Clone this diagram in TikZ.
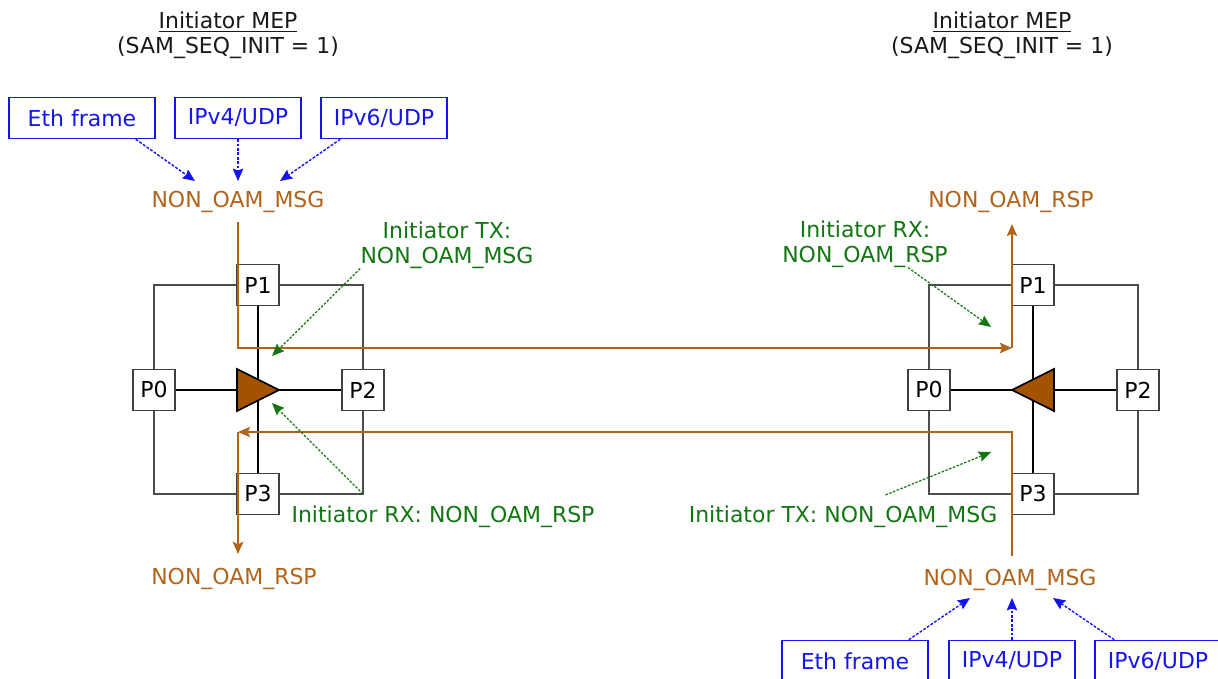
\documentclass[tikz,border=0pt]{standalone}
\usepackage{fontspec}
\setmainfont{DejaVu Sans}
\usetikzlibrary{arrows.meta, positioning, calc}
\definecolor{mepbrown}{HTML}{B2631A}
\definecolor{mepfill}{HTML}{A35200}
\definecolor{mepgreen}{HTML}{127612}
\definecolor{mepblue}{HTML}{1414F0}

\tikzset{
  port/.style={draw=black!75, fill=white, line width=0.6pt, minimum width=0.84cm, minimum height=0.82cm, inner sep=0pt},
  srcbox/.style={draw=mepblue, text=mepblue, line width=0.9pt, minimum height=0.82cm, inner sep=0pt},
  msglbl/.style={text=mepbrown, inner sep=0pt, anchor=base},
  note/.style={text=mepgreen, align=center, inner sep=0pt, anchor=base},
  frame/.style={draw=black!70, line width=0.6pt},
  link/.style={draw=black, line width=1.1pt},
  wedge/.style={fill=mepfill, draw=black, line width=0.9pt, line join=miter},
  flow/.style={draw=mepbrown, line width=0.9pt, -{Stealth[length=7pt,width=6pt,inset=1.5pt]}},
  feed/.style={draw=mepblue, line width=0.8pt, dash pattern=on 1.6pt off 0.9pt, -{Stealth[length=7pt,width=6pt,inset=1pt]}},
  hint/.style={draw=mepgreen, line width=0.7pt, dash pattern=on 1.4pt off 0.9pt, -{Stealth[length=7pt,width=6pt,inset=1pt]}}
}

\begin{document}
\begin{tikzpicture}[x=0.02cm, y=-0.02cm, font=\fontsize{12.5}{14.2}\selectfont]
  \useasboundingbox (0,0) rectangle (1218,679);
  \clip (0,0) rectangle (1218,679);

  % MEP headers
  \node[anchor=base, align=center, text=black!90, inner sep=0pt] (lHead) at (228,54)
    {\underline{Initiator MEP}\\[0.5pt](SAM\_SEQ\_INIT = 1)};
  \node[anchor=base, align=center, text=black!90, inner sep=0pt] (rHead) at (1002,54)
    {\underline{Initiator MEP}\\[0.5pt](SAM\_SEQ\_INIT = 1)};

  % the two switches
  \foreach \s/\cx/\d in {l/258/1, r/1033/-1} {
    \node[port] (\s P1) at (\cx,285) {P1};
    \node[port] (\s P3) at (\cx,494) {P3};
    \node[port] (\s P0) at ({\cx-104},390) {P0};
    \node[port] (\s P2) at ({\cx+105},390) {P2};
    \draw[frame] (\s P0) |- (\s P1) -| (\s P2) |- (\s P3) -| (\s P0);
    \draw[link] (\s P0) -- (\s P2);
    \draw[link] (\s P1) -- (\s P3);
    \filldraw[wedge] ({\cx-21*(\d)},369) -- ({\cx+21*(\d)},390) -- ({\cx-21*(\d)},411) -- cycle;
  }

  % frame sources
  \node[srcbox, minimum width=2.92cm] (lEth) at (82,118) {Eth frame};
  \node[srcbox, minimum width=2.52cm] (lV4) at (238,118) {IPv4/UDP};
  \node[srcbox, minimum width=2.52cm] (lV6) at (384,118) {IPv6/UDP};
  \node[srcbox, minimum width=2.92cm] (rEth) at (855,661) {Eth frame};
  \node[srcbox, minimum width=2.52cm] (rV4) at (1012,661) {IPv4/UDP};
  \node[srcbox, minimum width=2.52cm] (rV6) at (1158,661) {IPv6/UDP};

  % message labels
  \node[msglbl] (lMsg) at (238,208) {NON\_OAM\_MSG};
  \node[msglbl] (lRsp) at (234,584) {NON\_OAM\_RSP};
  \node[msglbl] (rRsp) at (1011,208) {NON\_OAM\_RSP};
  \node[msglbl] (rMsg) at (1010,585) {NON\_OAM\_MSG};

  \coordinate (lMsgW) at (195,181);
  \coordinate (lMsgM) at (238,181);
  \coordinate (lMsgE) at (280,181);
  \coordinate (rMsgW) at (970,598);
  \coordinate (rMsgM) at (1012,598);
  \coordinate (rMsgE) at (1053,598);
  \draw[feed] ([xshift=-0.4cm]lEth.south east) -- (lMsgW);
  \draw[feed] (lV4.south) -- (lMsgM);
  \draw[feed] ([xshift=0.4cm]lV6.south west) -- (lMsgE);
  \draw[feed] ([xshift=-0.4cm]rEth.north east) -- (rMsgW);
  \draw[feed] (rV4.north) -- (rMsgM);
  \draw[feed] ([xshift=0.4cm]rV6.north west) -- (rMsgE);

  % message flow
  \coordinate (lTop) at (238,222);
  \coordinate (rTurn) at (1012,348);
  \coordinate (rUp) at (1012,224);
  \coordinate (rBot) at (1012,556);
  \coordinate (lTurn) at (238,432);
  \coordinate (lBot) at (238,554);
  \draw[flow] (lTop) |- (rTurn);
  \draw[flow] (rTurn) -- (rUp);
  \draw[flow] (rBot) |- (lTurn);
  \draw[flow] (lTurn) -- (lBot);

  % initiator notes
  \node[note] (lTx) at (447,263) {Initiator TX:\\NON\_OAM\_MSG};
  \node[note] (lRx) at (443,522) {Initiator RX: NON\_OAM\_RSP};
  \node[note] (rRx) at (865,262) {Initiator RX:\\NON\_OAM\_RSP};
  \node[note] (rTx) at (843,522) {Initiator TX: NON\_OAM\_MSG};

  \coordinate (lTxEnd) at (272,356);
  \coordinate (lRxEnd) at (272,403);
  \coordinate (rRxEnd) at (991,327);
  \coordinate (rTxEnd) at (991,452);
  \draw[hint] (lTx.south west) -- (lTxEnd);
  \draw[hint] (lP2 |- lP3) -- (lRxEnd);
  \draw[hint] ([xshift=0.86cm]rRx.south) -- (rRxEnd);
  \draw[hint] ([xshift=0.85cm,yshift=0.2cm]rTx.north) -- (rTxEnd);
\end{tikzpicture}
\end{document}
